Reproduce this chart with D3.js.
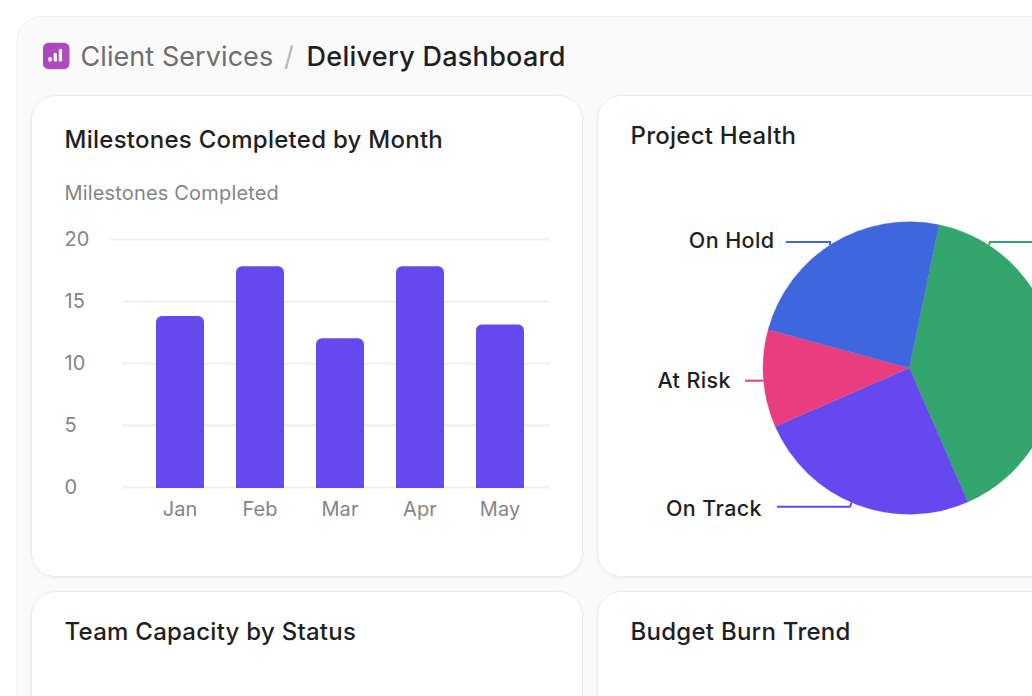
<!DOCTYPE html>
<html><head><meta charset="utf-8">
<script src="https://cdnjs.cloudflare.com/ajax/libs/d3/7.8.5/d3.min.js"></script>
<style>
html,body{margin:0;padding:0;background:#fff;overflow:hidden}
svg{display:block;font-family:Inter,sans-serif}
</style></head><body>
<svg id="c" width="1032" height="696"></svg>
<script>
const months = ["Jan","Feb","Mar","Apr","May"];
const milestones = [13.8,17.8,12,17.8,13.1];
const yTicks = [0,5,10,15,20];
// Green slice's own label sits beyond the picture's right edge, so its name is not readable.
const healthNames = ["Healthy","On Track","At Risk","On Hold"];
const healthValues = [40.2,25,10.8,24];
const healthColors = ["#33a56e","#6549ee","#e83e80","#4066dd"];
const cardTitles = ["Milestones Completed by Month","Project Health","Team Capacity by Status","Budget Burn Trend"];

const svg = d3.select("#c");
const defs = svg.append("defs");
const grad = defs.append("linearGradient").attr("id","ig").attr("x1",0).attr("y1",0).attr("x2",1).attr("y2",1);
grad.append("stop").attr("offset",0).attr("stop-color","#a846c0");
grad.append("stop").attr("offset",1).attr("stop-color","#b24db8");
const sh = defs.append("filter").attr("id","sh").attr("x","-5%").attr("y","-5%").attr("width","110%").attr("height","110%");
sh.append("feDropShadow").attr("dx",0).attr("dy",1).attr("stdDeviation",1.5).attr("flood-color","#000").attr("flood-opacity",0.05);

// shell
svg.append("rect").attr("x",17).attr("y",16.5).attr("width",1100).attr("height",800).attr("rx",24)
  .attr("fill","#fafafa").attr("stroke","#f0f0f0");

// header
svg.append("rect").attr("x",43).attr("y",42.7).attr("width",26.5).attr("height",26.5).attr("rx",5.5).attr("fill","url(#ig)");
svg.append("g").selectAll("rect").data([[48.4,57.2,3.3,4.2],[53.6,53,3.3,8.4],[58.8,49,3.3,12.4]]).join("rect")
  .attr("x",d=>d[0]).attr("y",d=>d[1]).attr("width",d=>d[2]).attr("height",d=>d[3]).attr("rx",1).attr("fill","#fff");
svg.append("text").attr("x",80.5).attr("y",66).attr("font-size",27).attr("letter-spacing",0.07).attr("fill","#6e6e6e").text("Client Services");
svg.append("text").attr("x",284).attr("y",66).attr("font-size",27).attr("fill","#b5b5b5").text("/");
svg.append("text").attr("x",306.5).attr("y",66).attr("font-size",27).attr("font-weight",500).attr("letter-spacing",0.28).attr("fill","#1f1f1f").text("Delivery Dashboard");

// cards
const cardX = [31.5,597.5,31.5,597.5], cardY=[95.5,95.5,591.5,591.5], cardW=[551,600,551,600], cardH=[481,481,300,300];
const titleX = [64.5,630.5,64.5,630.5], titleY=[148,144,640,640];
cardTitles.forEach((t,i)=>{
  svg.append("rect").attr("x",cardX[i]).attr("y",cardY[i]).attr("width",cardW[i]).attr("height",cardH[i]).attr("rx",24)
    .attr("fill","#fff").attr("stroke","#ebebeb").attr("filter","url(#sh)");
  svg.append("text").attr("x",titleX[i]).attr("y",titleY[i]).attr("font-size",24).attr("font-weight",550).attr("letter-spacing",0.26).attr("fill","#1f1f1f").text(t);
});

// bar chart
svg.append("text").attr("x",64.5).attr("y",200).attr("font-size",20).attr("letter-spacing",0.17).attr("fill","#858585").text("Milestones Completed");
const x = d3.scaleBand().domain(months).range([140,540]).paddingInner(0.4).paddingOuter(0.2);
const y = d3.scaleLinear().domain([0,20]).range([487,239]);
svg.append("g").selectAll("line").data(yTicks).join("line")
  .attr("x1",d=>d===20?110:122).attr("x2",550).attr("y1",d=>y(d)+0.5).attr("y2",d=>y(d)+0.5)
  .attr("stroke","#f0f0f0").attr("stroke-width",2);
const ya = svg.append("g").attr("transform","translate(64.5,0.5)").call(d3.axisLeft(y).tickValues(yTicks).tickSize(0));
ya.select(".domain").remove();
ya.selectAll("text").attr("x",0).attr("text-anchor","start").attr("font-family","Inter").attr("font-size",20).attr("fill","#858585");
const xa = svg.append("g").attr("transform","translate(0,502)").call(d3.axisBottom(x).tickSize(0));
xa.select(".domain").remove();
xa.selectAll("text").attr("y",0).attr("dy","0.71em").attr("font-family","Inter").attr("font-size",20).attr("letter-spacing",0.1).attr("fill","#858585");
const R=6;
svg.append("g").selectAll("path").data(milestones).join("path").attr("fill","#6549ee")
  .attr("d",(d,i)=>{
    const l=x(months[i]), r=l+x.bandwidth(), t=y(d), b=y(0)+1, p=d3.path();
    p.moveTo(l,b); p.lineTo(l,t+R); p.arcTo(l,t,l+R,t,R); p.lineTo(r-R,t); p.arcTo(r,t,r,t+R,R); p.lineTo(r,b); p.closePath();
    return p.toString();
  });

// pie
const cx=909.3, cy=368, rad=146.3;
const pie = d3.pie().sort(null).startAngle(11.7*Math.PI/180).endAngle((360+11.7)*Math.PI/180);
const arcs = pie(healthValues);
const arc = d3.arc().innerRadius(0).outerRadius(rad);
const gp = svg.append("g").attr("transform",`translate(${cx},${cy})`);
gp.selectAll("path").data(arcs).join("path").attr("d",arc).attr("fill",(d,i)=>healthColors[i])
  .attr("stroke",(d,i)=>healthColors[i]).attr("stroke-width",0.3);

// leaders: from the rim, a short elbow, then a horizontal run towards the label
const leaderAngle = [33,203.2,null,327.2];
const elbowX = [990,850,null,830];
const labelY = [242,506.8,380.7,242];
const leaderEnd = [1040,777,745,786];
const textEnd = [null,762,731,774.5];
const textY = [null,516,388,248];
arcs.forEach((a,i)=>{
  let pts;
  if(leaderAngle[i]===null){
    const px=cx-Math.sqrt(rad*rad-(labelY[i]-cy)*(labelY[i]-cy));
    pts=[[px,labelY[i]],[leaderEnd[i],labelY[i]]];
  } else {
    const ang=leaderAngle[i]*Math.PI/180;
    pts=[[cx+rad*Math.sin(ang),cy-rad*Math.cos(ang)],[elbowX[i],labelY[i]],[leaderEnd[i],labelY[i]]];
  }
  svg.append("path").attr("d",d3.line()(pts)).attr("fill","none").attr("stroke",healthColors[i]).attr("stroke-width",2);
  if(textEnd[i]!==null){
    svg.append("text").attr("x",textEnd[i]).attr("y",textY[i]).attr("text-anchor","end")
      .attr("font-size",21.5).attr("font-weight",550).attr("letter-spacing",0.4).attr("fill","#1f1f1f").text(healthNames[i]);
  }
});
</script>
</body></html>
